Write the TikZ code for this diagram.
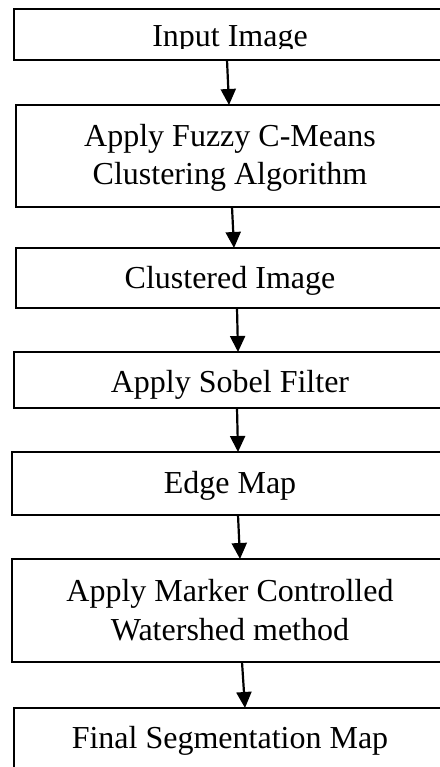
\documentclass[tikz,border=0pt]{standalone}
\usepackage{fontspec}
\setmainfont{Liberation Serif}
\usetikzlibrary{arrows.meta}

\tikzset{
  block/.style={draw, line width=1.8pt, inner xsep=0pt, inner ysep=0pt, outer sep=0pt,
    align=center, anchor=north west, font=\fontsize{32}{38.5}\selectfont},
  flow/.style={line width=2.2pt, -{Triangle[length=16pt,width=15pt]}}
}

\begin{document}
\begin{tikzpicture}[x=1pt,y=-1pt]
		\useasboundingbox (0,0) rectangle (439,767);
		% boxes, top to bottom
		\node[block, minimum width=432pt, minimum height=51pt] (b1) at (14,9) {};
		\begin{scope}
			\clip (14,9) rectangle (446,49);
			\node[font=\fontsize{32}{38.5}\selectfont, anchor=base, inner sep=0pt] (t1) at (230,47) {Input Image};
		\end{scope}
		\node[block, minimum width=428pt, text height=80pt, text depth=22pt] (b2) at (16,105) {Apply Fuzzy C-Means\\Clustering Algorithm};
		\node[block, minimum width=428pt, text height=40pt, text depth=20pt] (b3) at (16,248) {Clustered Image};
		\node[block, minimum width=432pt, text height=40pt, text depth=16pt] (b4) at (14,352) {Apply Sobel Filter};
		\node[block, minimum width=436pt, text height=41pt, text depth=22pt] (b5) at (12,452) {Edge Map};
		\node[block, minimum width=436pt, text height=81pt, text depth=22pt] (b6) at (12,559) {Apply Marker Controlled\\Watershed method};
		\node[block, minimum width=432pt, text height=40pt, text depth=40pt] (b7) at (14,708) {Final Segmentation Map};

		% arrows
		\foreach \a/\b/\s/\e in {b1/b2/-3/-1, b2/b3/2/4, b3/b4/7/8, b4/b5/7/8, b5/b6/8/10, b6/b7/12/15}
		\draw[flow] ([xshift=\s pt]\a.south) -- ([xshift=\e pt]\b.north);
\end{tikzpicture}
\end{document}
